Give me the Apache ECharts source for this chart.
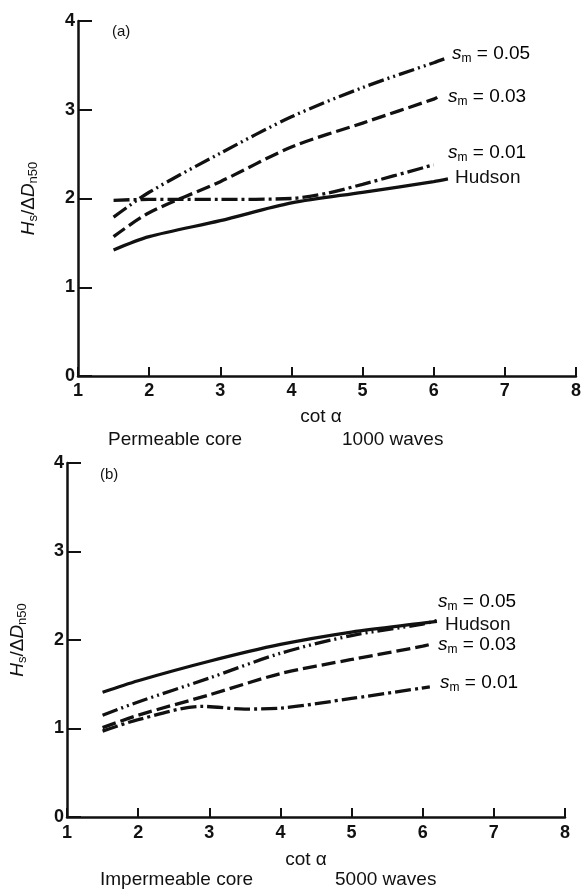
<!DOCTYPE html>
<html>
<head>
<meta charset="utf-8">
<script src="https://cdn.jsdelivr.net/npm/echarts@6/dist/echarts.min.js"></script>
<style>
html,body{margin:0;padding:0;background:#fff;}
#chart{width:584px;height:896px;}
</style>
</head>
<body>
<div id="chart"></div>
<script>
// ---- Data ----
const xTickLabels = [1, 2, 3, 4, 5, 6, 7, 8];
const yTickLabels = [0, 1, 2, 3, 4];

// (a) Permeable core, 1000 waves
const topX005 = [1.5, 2, 3, 4, 5, 6, 6.17];
const topY005 = [1.79, 2.07, 2.51, 2.92, 3.25, 3.53, 3.58];
const topX003 = [1.5, 2, 3, 4, 5, 6, 6.05];
const topY003 = [1.57, 1.84, 2.19, 2.58, 2.85, 3.12, 3.14];
const topX001 = [1.5, 2, 3, 4, 4.5, 5, 6];
const topY001 = [1.98, 1.99, 1.99, 2.0, 2.06, 2.16, 2.38];
const topXHud = [1.5, 2, 3, 4, 5, 6, 6.2];
const topYHud = [1.42, 1.57, 1.75, 1.95, 2.07, 2.19, 2.22];

// (b) Impermeable core, 5000 waves
const botX005 = [1.5, 2, 3, 4, 5, 6, 6.2];
const botY005 = [1.15, 1.30, 1.57, 1.85, 2.05, 2.18, 2.22];
const botX003 = [1.5, 2, 3, 4, 5, 6, 6.15];
const botY003 = [1.01, 1.15, 1.38, 1.62, 1.78, 1.93, 1.96];
const botX001 = [1.5, 2, 2.9, 3.5, 4, 5, 6.1];
const botY001 = [0.97, 1.10, 1.25, 1.22, 1.23, 1.34, 1.47];
const botXHud = [1.5, 2, 3, 4, 5, 6, 6.2];
const botYHud = [1.41, 1.54, 1.76, 1.95, 2.09, 2.19, 2.21];

// ---- Styling ----
const INK = '#111';
const FONT = '"Liberation Sans", Arial, Helvetica, sans-serif';
const DASH_DOT_DOT = [16, 4, 2, 4, 2, 4];
const DASHED = [14, 5];
const DASH_DOT = [16, 4, 3, 4];

function pairs(xs, ys) { return xs.map((x, i) => [x, ys[i]]); }

function mkSeries(xs, ys, idx, dash) {
  return {
    type: 'line', xAxisIndex: idx, yAxisIndex: idx,
    data: pairs(xs, ys), smooth: 0.3, symbol: 'none', silent: true,
    lineStyle: { color: INK, width: 3.3, type: dash, cap: 'butt' }
  };
}

function mkX(idx, margin) {
  return {
    type: 'value', gridIndex: idx, min: 1, max: 8, interval: 1,
    axisLine: { lineStyle: { color: INK, width: 2.5 } },
    axisTick: { inside: true, length: 9, lineStyle: { color: INK, width: 2 } },
    axisLabel: { color: INK, fontSize: 18, fontWeight: 'bold', fontFamily: FONT, margin: margin,
      formatter: v => String(xTickLabels[v - 1]) },
    splitLine: { show: false }
  };
}

const yNameRich = {
  i: { fontStyle: 'italic', fontSize: 19, fontFamily: FONT, color: INK },
  n: { fontSize: 19, fontFamily: FONT, color: INK },
  sub: { fontSize: 13, fontFamily: FONT, color: INK, padding: [10, 0, 0, 0] }
};

function mkY(idx) {
  return {
    type: 'value', gridIndex: idx, min: 0, max: 4, interval: 1,
    name: '{i|H}{sub|s}{n|/Δ}{i|D}{sub|n50}',
    nameLocation: 'middle', nameRotate: 90, nameGap: 38,
    nameTextStyle: { rich: yNameRich },
    axisLine: { show: true, lineStyle: { color: INK, width: 2.5 } },
    axisTick: { show: true, inside: true, length: 14, lineStyle: { color: INK, width: 2 } },
    axisLabel: { color: INK, fontSize: 18, fontWeight: 'bold', fontFamily: FONT, margin: 3,
      formatter: v => String(yTickLabels[v]) },
    splitLine: { show: false }
  };
}

const smRich = {
  s: { fontStyle: 'italic', fontSize: 19, fontFamily: FONT, color: INK },
  m: { fontSize: 12, fontFamily: FONT, color: INK, padding: [9, 0, 0, 0] },
  t: { fontSize: 19, fontFamily: FONT, color: INK }
};

function txt(x, y, text, align, size) {
  return { type: 'text', x: x, y: y, silent: true,
    style: { text: text, fill: INK, font: (size || 19) + 'px ' + FONT,
      align: align || 'left', verticalAlign: 'middle' } };
}
function smTxt(x, y, val) {
  return { type: 'text', x: x, y: y, silent: true,
    style: { text: '{s|s}{m|m}{t| = ' + val + '}', rich: smRich,
      align: 'left', verticalAlign: 'middle' } };
}
function cotTxt(x, y) {
  return { type: 'text', x: x, y: y, silent: true,
    style: { text: 'cot α', fill: INK, font: '19px ' + FONT,
      align: 'center', verticalAlign: 'middle' } };
}

const chart = echarts.init(document.getElementById('chart'), null, { renderer: 'canvas' });
chart.setOption({
  backgroundColor: '#fff',
  animation: false,
  grid: [
    { left: 78, top: 21, width: 499, height: 355 },
    { left: 67, top: 463, width: 498, height: 354 }
  ],
  xAxis: [mkX(0, 6), mkX(1, 7)],
  yAxis: [mkY(0), mkY(1)],
  series: [
    mkSeries(topX005, topY005, 0, DASH_DOT_DOT),
    mkSeries(topX003, topY003, 0, DASHED),
    mkSeries(topX001, topY001, 0, DASH_DOT),
    mkSeries(topXHud, topYHud, 0, 'solid'),
    mkSeries(botX005, botY005, 1, DASH_DOT_DOT),
    mkSeries(botX003, botY003, 1, DASHED),
    mkSeries(botX001, botY001, 1, DASH_DOT),
    mkSeries(botXHud, botYHud, 1, 'solid')
  ],
  graphic: [
    txt(112, 32, '(a)', 'left', 15),
    smTxt(452, 54, '0.05'),
    smTxt(448, 97, '0.03'),
    smTxt(448, 153, '0.01'),
    txt(455, 178, 'Hudson'),
    cotTxt(321, 417),
    txt(108, 440, 'Permeable core'),
    txt(342, 440, '1000 waves'),

    txt(100, 475, '(b)', 'left', 15),
    smTxt(438, 602, '0.05'),
    txt(445, 625, 'Hudson'),
    smTxt(438, 645, '0.03'),
    smTxt(440, 683, '0.01'),
    cotTxt(306, 860),
    txt(100, 880, 'Impermeable core'),
    txt(335, 880, '5000 waves')
  ]
});
</script>
</body>
</html>
